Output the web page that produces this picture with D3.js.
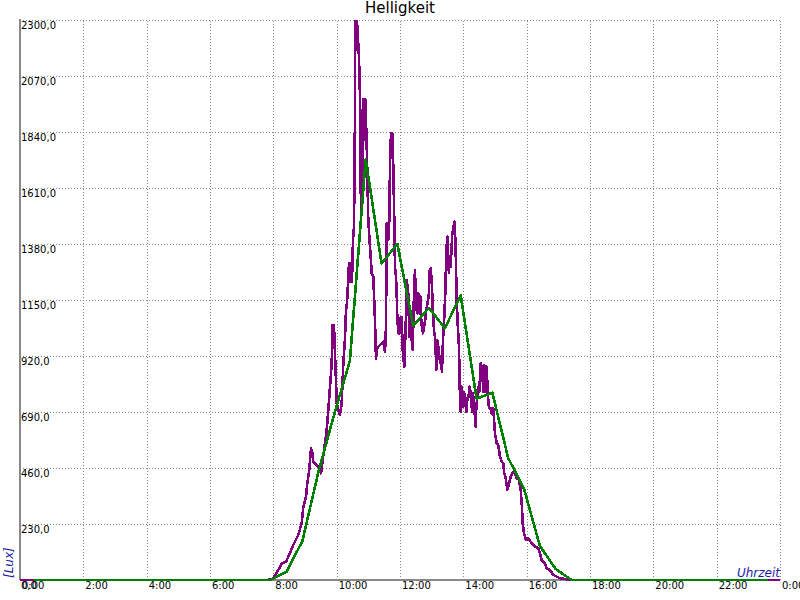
<!DOCTYPE html>
<html>
<head>
<meta charset="utf-8">
<script src="https://cdn.jsdelivr.net/npm/d3@7"></script>
<style>
  html, body { margin: 0; padding: 0; background: #fff; }
  svg { display: block; font-family: "DejaVu Sans", sans-serif; }
</style>
</head>
<body>
<svg id="chart" width="800" height="600"></svg>
<script>
// ---- data (time in minutes of the day, brightness in Lux) ----
const purpleMinutes = [0, 470, 480, 489.4, 495.8, 504.0, 511.6, 517.8, 527.3, 533.7, 536.8, 541.9, 544.4, 548.1, 551.4, 554.6, 555.7, 562.2, 568.4, 570.3, 573.5, 577.9, 581.1, 584.1, 587.4, 590.6, 592.1, 594.9, 596.8, 598.7, 600.0, 603.1, 606.3, 609.5, 612.6, 615.8, 617.7, 619.6, 623.4, 625.3, 627.2, 629.0, 630.9, 632.8, 634.2, 635.3, 637.0, 638.5, 640.4, 641.7, 643.3, 644.8, 646.1, 647.4, 648.9, 650.5, 652.3, 654.2, 656.1, 657.5, 659.9, 666.4, 669.4, 672.6, 674.5, 675.8, 678.9, 685.3, 688.4, 691.6, 693.5, 694.8, 697.8, 699.7, 701.0, 702.9, 705.4, 707.3, 709.2, 710.5, 712.4, 713.7, 714.9, 716.8, 718.7, 720.0, 723.2, 725.1, 728.1, 730.8, 732.7, 735.7, 737.6, 738.9, 742.2, 744.1, 746.5, 748.4, 750.3, 752.8, 754.7, 757.3, 759.2, 760.4, 763.6, 765.5, 767.9, 769.8, 774.4, 776.3, 778.2, 780.6, 782.5, 784.4, 786.9, 788.8, 790.7, 793.3, 795.2, 797.1, 799.6, 801.4, 803.3, 805.8, 807.7, 809.6, 810.9, 812.8, 814.2, 816.1, 817.2, 819.1, 821.0, 822.3, 823.6, 825.5, 827.4, 829.9, 831.8, 833.1, 834.3, 835.0, 836.2, 838.0, 839.4, 841.3, 842.6, 845.6, 847.5, 848.8, 852.1, 853.9, 855.1, 857.0, 858.3, 861.5, 863.4, 864.6, 866.5, 867.8, 870.2, 872.9, 875.9, 877.8, 879.7, 881.6, 884.3, 886.2, 888.6, 891.8, 893.7, 896.8, 900.0, 903.2, 906.2, 909.5, 912.7, 915.7, 917.6, 920.3, 923.3, 926.5, 929.7, 934.7, 937.9, 941.1, 945.5, 948.7, 950.6, 952.5, 954.9, 958.7, 963.1, 969.5, 975.8, 982.0, 985.3, 988.5, 994.7, 998.0, 1004.2, 1010.5, 1016.9, 1023.2, 1035.8, 1042.1, 1440];
const purpleLux = [0, 0, 7, 41, 68, 75, 110, 144, 185, 233, 301, 342, 397, 452, 541, 520, 486, 472, 459, 438, 493, 562, 616, 698, 794, 890, 1047, 1047, 931, 821, 726, 698, 678, 726, 890, 993, 1109, 1137, 1302, 1224, 1302, 1224, 1396, 1450, 1733, 2296, 2177, 2296, 2218, 2177, 2070, 1914, 1466, 1725, 1561, 1975, 1807, 1975, 1848, 1737, 1478, 1260, 1246, 1068, 910, 945, 958, 972, 979, 938, 1040, 1465, 1396, 1478, 1697, 1834, 1834, 1697, 1478, 1287, 1246, 1178, 1081, 1013, 1075, 1013, 1081, 945, 876, 1040, 1232, 1178, 999, 1068, 986, 945, 1178, 1273, 1123, 1095, 1178, 1095, 1164, 1054, 1013, 1040, 1068, 1109, 1164, 1273, 1280, 1205, 1095, 1027, 986, 863, 986, 945, 904, 890, 856, 986, 1054, 1178, 1342, 1410, 1314, 1260, 1328, 1287, 1342, 1424, 1437, 1465, 1472, 1355, 1150, 1027, 958, 794, 712, 692, 794, 767, 712, 773, 753, 692, 746, 739, 794, 767, 726, 692, 767, 685, 630, 712, 753, 794, 773, 890, 862, 773, 883, 773, 876, 767, 705, 705, 685, 705, 602, 561, 554, 506, 486, 479, 438, 418, 370, 397, 424, 445, 438, 418, 411, 370, 315, 233, 192, 164, 171, 151, 137, 130, 110, 82, 68, 48, 41, 21, 14, 7, 3, 0, 0];

const greenMinutes = [27, 475, 505, 535, 565, 595, 625, 655, 685, 715, 745, 775, 805, 835, 865, 895, 925, 955, 985, 1015, 1045, 1417];
const greenLux = [0, 0, 34, 160, 440, 678, 900, 1729, 1300, 1380, 1044, 1118, 1034, 1170, 745, 769, 501, 375, 140, 45, 0, 0];

const xTickMinutes = [0, 120, 240, 360, 480, 600, 720, 840, 960, 1080, 1200, 1320, 1440];
const xTickLabels = ["0:00", "2:00", "4:00", "6:00", "8:00", "10:00", "12:00", "14:00", "16:00", "18:00", "20:00", "22:00", "0:00"];
const yTickValues = [0, 230, 460, 690, 920, 1150, 1380, 1610, 1840, 2070, 2300];
const yTickLabels = ["0,0", "230,0", "460,0", "690,0", "920,0", "1150,0", "1380,0", "1610,0", "1840,0", "2070,0", "2300,0"];

const chartTitle = "Helligkeit";
const yTitle = "[Lux]";
const xTitle = "Uhrzeit";

// ---- layout ----
const svg = d3.select("#chart");
const mLeft = 20, mRight = 780, mTop = 20, mBottom = 580;

const x = d3.scaleLinear().domain([0, 1440]).range([mLeft, mRight]);
const y = d3.scaleLinear().domain([0, 2300]).range([mBottom, mTop]);

// grid: horizontal
const yGrid = d3.axisLeft(y).tickValues(yTickValues.slice(1)).tickSize(-(mRight - mLeft)).tickFormat("");
svg.append("g").attr("transform", `translate(${mLeft},0)`).call(yGrid)
  .call(g => g.select(".domain").remove())
  .call(g => g.selectAll(".tick line")
    .attr("stroke", "#888").attr("stroke-width", 1).attr("stroke-dasharray", "1,2")
    .attr("shape-rendering", "crispEdges"));

// grid: vertical
const xGrid = d3.axisBottom(x).tickValues(xTickMinutes.slice(1)).tickSize(-(mBottom - mTop)).tickFormat("");
svg.append("g").attr("transform", `translate(0,${mBottom})`).call(xGrid)
  .call(g => g.select(".domain").remove())
  .call(g => g.selectAll(".tick line")
    .attr("stroke", "#888").attr("stroke-width", 1).attr("stroke-dasharray", "1,2")
    .attr("shape-rendering", "crispEdges"));

// axis lines
svg.append("line").attr("x1", mLeft).attr("x2", mLeft).attr("y1", mTop - 1).attr("y2", mBottom)
  .attr("stroke", "#888").attr("stroke-width", 2).attr("shape-rendering", "crispEdges");
svg.append("line").attr("x1", mLeft).attr("x2", mRight).attr("y1", mBottom).attr("y2", mBottom)
  .attr("stroke", "#888").attr("stroke-width", 2).attr("shape-rendering", "crispEdges");

// data lines
const line = d3.line().x(d => x(d[0])).y(d => y(d[1]));
const purpleData = purpleMinutes.map((m, i) => [m, purpleLux[i]]);
const greenData = greenMinutes.map((m, i) => [m, greenLux[i]]);

svg.append("path").datum(purpleData).attr("d", line)
  .attr("fill", "none").attr("stroke", "#800080").attr("stroke-width", 2.6)
  .attr("stroke-linejoin", "round").attr("shape-rendering", "crispEdges");
svg.append("path").datum(greenData).attr("d", line)
  .attr("fill", "none").attr("stroke", "#008000").attr("stroke-width", 2.6)
  .attr("stroke-linejoin", "round").attr("shape-rendering", "crispEdges");

// y tick labels (inside the plot, just below each grid line)
svg.append("g").selectAll("text").data(yTickValues).join("text")
  .attr("x", mLeft + 1).attr("y", d => y(d) + 9)
  .attr("font-size", 10).attr("fill", "#000")
  .text((d, i) => yTickLabels[i]);

// x tick labels
svg.append("g").selectAll("text").data(xTickMinutes).join("text")
  .attr("x", d => x(d) + 2).attr("y", 589)
  .attr("font-size", 10).attr("fill", "#000")
  .text((d, i) => xTickLabels[i]);

// title
svg.append("text").attr("x", 400).attr("y", 13).attr("text-anchor", "middle")
  .attr("font-size", 15).attr("fill", "#000").text(chartTitle);

// axis titles
svg.append("text").attr("transform", "translate(13,578) rotate(-90)")
  .attr("font-size", 12).attr("font-style", "italic").attr("fill", "#1c1ca8")
  .text(yTitle);
svg.append("text").attr("x", mRight).attr("y", 577).attr("text-anchor", "end")
  .attr("font-size", 12).attr("font-style", "italic").attr("fill", "#1c1ca8")
  .text(xTitle);
</script>
</body>
</html>
